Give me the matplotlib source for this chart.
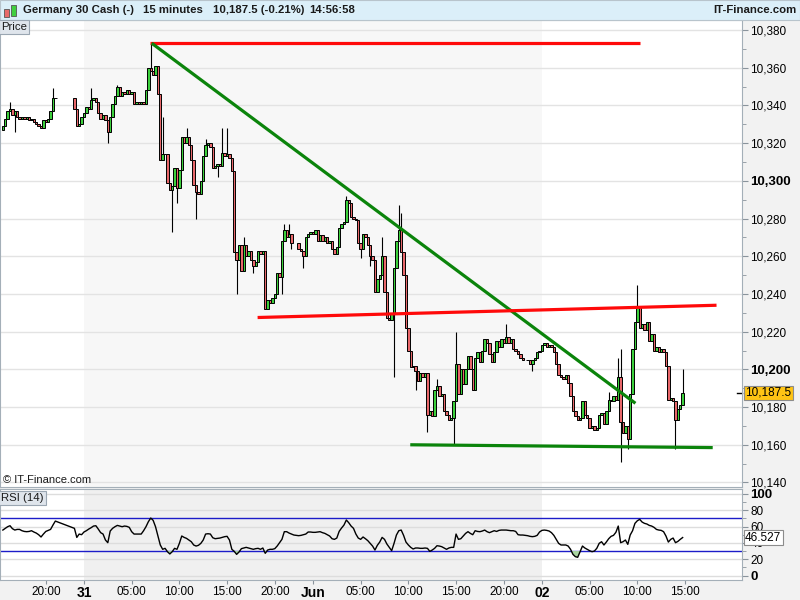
import numpy as np
import pandas as pd
import matplotlib
matplotlib.use("Agg")
import matplotlib.pyplot as plt
from matplotlib.patches import Rectangle

plt.rcParams['font.family'] = ['Liberation Sans', 'DejaVu Sans']

# Bougies de 15 minutes, du 30 mai 15:30 au 2 juin 14:45
times = pd.date_range("2016-05-30 15:30", "2016-06-02 14:45", freq="15min")
first_open = 10327.0
nan = np.nan

# Cours de clôture, par tranche
close_a = [10329, 10333, 10337, 10338, 10335, 10337, 10334, 10333, 10334, 10333, 10334, 10332,
           10333, 10331, 10330, 10329, 10328, 10332, 10331, 10333, 10337, 10344, 10344]
close_gap = [nan, nan, nan, nan, nan, nan, nan]
close_b = [10338, 10329, 10330, 10334, 10336, 10339, 10338, 10343, 10344, 10342, 10336, 10333,
           10335, 10332, 10326, 10334, 10341, 10345, 10350, 10345, 10347, 10346, 10348, 10346,
           10347, 10341, 10342, 10341]
close_c = [10342, 10341, 10348, 10360, 10358, 10356, 10361, 10346, 10311, 10314, 10314, 10299,
           10295, 10297, 10307, 10296, 10306]
close_d = [10323, 10320, 10323, 10319, 10311, 10298, 10294, 10293, 10300, 10313, 10319, 10320,
           10318, 10307, 10308, 10309, 10308, 10315, 10313, 10314, 10312, 10305, 10262, 10258,
           10266, 10252, 10266, 10260, 10263, 10258, 10255, 10257, 10263, 10261, 10263, 10232,
           10237, 10235, 10238, 10240, 10251]
close_e = [10249, 10268, 10274, 10270, 10272, 10267, nan, nan, 10264, 10263, 10260, 10270,
           10272, 10273, 10272, 10274, 10268, 10271, 10268, 10270, 10267, 10268, 10264, 10261,
           10265, 10275, 10277, 10278, 10290, 10288, 10281, 10280, 10279, 10267, 10264, 10272,
           10270, 10266, 10260, 10258, 10241, 10248, 10250, 10260, 10241, 10227, 10226, 10230,
           10254, 10268, 10274, 10262, 10250, 10222, 10210, 10201, 10202]
close_f = [10199, 10194, 10198, 10196, 10198, 10176, 10178, 10175, 10189, 10191, 10186, 10187,
           10178, 10176, 10173, 10174, 10183, 10203, 10187, 10200, 10192, 10200, 10207, 10200,
           10189, 10206, 10209, 10204, 10210, 10216, 10214, 10208, 10204, 10209, 10215, 10212,
           10216, 10214, 10217, 10214, 10216, 10211, 10210, 10208, 10206, 10205, nan, 10205,
           10203, 10205, 10206, 10209, 10210, 10213, 10214, 10212, 10213, 10212, 10209, 10203,
           10197]
close_g = [10196, 10195, 10197, 10193, 10186, 10178, 10175, 10173, 10174, 10183, 10176, 10174,
           10169, 10170, 10168, 10169, 10176, 10177, 10171, 10178, 10184, 10183, 10186, 10184,
           10196, 10172, 10166, 10170, 10163, 10187, 10211, 10225, 10233, 10222, 10224, 10221,
           10225, 10215, 10219, 10210, 10212, 10209, 10211, 10209, 10202, 10184, 10185, 10183,
           10173, 10179, 10181, 10187.5]

# Mèches marquantes (heures depuis le 31 mai 00:00)
wick_high = {-7.75: 10342, -3.25: 10349, 0.75: 10349, 3.5: 10351, 7.0: 10373, 8.25: 10334,
             10.75: 10328, 12.75: 10322, 14.5: 10328, 15.0: 10328, 16.75: 10270, 21.0: 10277,
             21.5: 10277, 27.5: 10292, 31.25: 10270, 33.0: 10287, 33.25: 10283, 37.0: 10195,
             39.0: 10220, 44.25: 10224, 55.0: 10188, 56.0: 10206, 56.25: 10211, 58.0: 10245,
             62.75: 10200}
wick_low = {-7.25: 10326, 2.5: 10320, 9.25: 10273, 9.75: 10288, 11.75: 10280, 14.0: 10302,
            16.0: 10240, 17.75: 10251, 20.75: 10240, 21.75: 10264, 23.0: 10254, 29.0: 10259,
            30.0: 10255, 32.5: 10196, 34.75: 10189, 36.0: 10167, 38.75: 10160, 47.0: 10199,
            56.25: 10151, 57.0: 10158, 62.0: 10158}

rsi_a = [55.7, 57.8, 59.8, 61.0, 57.4, 55.7, 56.5, 56.5, 54.9, 54.0, 53.7, 54.0, 54.9, 53.3,
         52.0, 50.0, 47.2, 50.8, 54.0, 55.3, 56.5, 61.8, 66.7]
rsi_gap = [nan, nan, nan, nan, nan, nan, nan]
rsi_b = [57.8, 46.7, 50.8, 50.0, 53.3, 54.9, 56.9, 58.6, 60.6, 61.0, 56.9, 52.5, 50.8, 43.5,
         40.2, 54.5, 57.8, 59.8, 61.4, 60.6, 59.8, 60.6, 60.2, 59.0, 53.7, 50.8, 50.8, 50.8]
rsi_c = [50.8, 54.9, 59.8, 65.9, 70.4, 67.6, 59.8, 48.4, 37.4, 32.1, 33.3, 29.2, 26.4, 29.2,
         33.3, 32.1, 39.4]
rsi_d = [48.4, 46.7, 45.5, 43.5, 41.4, 37.4, 36.1, 37.0, 39.4, 43.5, 50.8, 51.2, 50.8, 46.3,
         45.1, 45.5, 45.9, 46.7, 47.6, 48.0, 43.5, 32.1, 29.6, 25.9, 28.8, 32.9, 33.7, 34.5,
         33.7, 32.9, 32.1, 32.9, 33.3, 32.1, 33.7, 27.2, 31.2, 32.1, 32.1, 32.9, 36.1]
rsi_e = [40.2, 44.3, 53.7, 53.7, 52.0, 50.8, 49.6, 49.2, 48.8, 49.2, 50.0, 50.8, 53.3, 53.3,
         52.9, 52.9, 53.3, 53.7, 52.5, 51.6, 50.0, 48.4, 45.1, 44.3, 45.9, 54.1, 58.2, 61.8,
         68.0, 64.7, 60.6, 57.8, 50.8, 45.9, 44.3, 47.2, 45.1, 42.7, 39.4, 36.1, 31.2, 37.0,
         41.0, 46.7, 44.3, 38.6, 34.5, 30.4, 39.4, 49.6, 54.9, 55.7, 49.2, 41.0, 37.4, 34.5, 32.5]
rsi_f = [33.7, 33.7, 33.3, 33.3, 33.7, 33.3, 29.6, 31.2, 33.3, 36.5, 36.1, 35.3, 33.7, 32.1,
         33.7, 34.5, 34.5, 50.8, 44.3, 45.1, 48.4, 51.6, 53.7, 51.6, 50.0, 54.9, 54.0, 53.7,
         54.5, 55.7, 53.7, 52.5, 53.7, 54.9, 54.0, 55.3, 55.7, 55.7, 55.7, 55.3, 54.9, 54.9,
         54.0, 50.0, 49.6, 49.6, 49.2, 48.8, 48.0, 47.6, 48.0, 49.2, 53.3, 55.3, 55.7, 55.3,
         54.5, 52.5, 49.2, 44.3, 39.4]
rsi_g = [37.4, 37.4, 37.4, 36.1, 32.1, 25.9, 23.1, 22.3, 29.2, 36.1, 33.7, 32.1, 30.4, 29.2,
         30.0, 33.3, 39.4, 41.4, 37.4, 41.0, 45.1, 48.0, 49.2, 52.9, 60.6, 40.2, 41.4, 43.5,
         38.2, 49.6, 54.9, 63.9, 67.1, 68.8, 65.5, 63.9, 63.1, 61.4, 60.6, 59.0, 56.5, 55.7,
         55.3, 53.7, 48.4, 41.0, 44.3, 45.9, 40.2, 41.8, 44.3, 46.527]

# Lignes de tendance tracées à la main (heures, cours)
red_top_x, red_top_y = [6.9, 58.3], [10373.0, 10373.0]
green_down_x, green_down_y = [7.1, 57.8], [10373.0, 10182.0]
red_mid_x, red_mid_y = [18.2, 66.3], [10227.5, 10234.0]
green_low_x, green_low_y = [34.2, 65.9], [10160.0, 10158.5]

price_ticks = [10140, 10160, 10180, 10200, 10220, 10240, 10260, 10280, 10300, 10320, 10340, 10360, 10380]
rsi_ticks = [0, 20, 40, 60, 80, 100]
xtick_pos = [-4, 0, 5, 10, 15, 20, 24, 29, 34, 39, 44, 48, 53, 58, 63]
xtick_lab = ['20:00', '31', '05:00', '10:00', '15:00', '20:00', 'Jun', '05:00', '10:00',
             '15:00', '20:00', '02', '05:00', '10:00', '15:00']
last_price = 10187.5

# ---------------------------------------------------------
closes = np.array(close_a + close_gap + close_b + close_c + close_d + close_e + close_f + close_g, dtype=float)
rsi = np.array(rsi_a + rsi_gap + rsi_b + rsi_c + rsi_d + rsi_e + rsi_f + rsi_g, dtype=float)
hours = np.asarray((times - pd.Timestamp("2016-05-31")) / pd.Timedelta(hours=1), dtype=float)

opens = np.empty_like(closes)
prev = first_open
for k, c in enumerate(closes):
    opens[k] = prev
    if not np.isnan(c):
        prev = c
highs = np.fmax(opens, closes)
lows = np.fmin(opens, closes)
for h, v in wick_high.items():
    highs[np.argmin(abs(hours - h))] = v
for h, v in wick_low.items():
    lows[np.argmin(abs(hours - h))] = v

W, H = 800, 600
fig = plt.figure(figsize=(8, 6), dpi=100, facecolor='#f2f2f2')

def fx(px): return px / W
def fy(py): return 1 - py / H

ax = fig.add_axes([0, fy(487), fx(742), fy(20) - fy(487)])
ax2 = fig.add_axes([0, fy(580), fx(742), fy(489) - fy(580)], sharex=ax)

# En-tête
fig.add_artist(Rectangle((0, fy(20)), 1, 20 / H, transform=fig.transFigure,
                         facecolor='#dbeff9', edgecolor='#b8c4cc', lw=0.8))
fig.add_artist(Rectangle((fx(4), fy(17)), fx(5), 8 / H, transform=fig.transFigure,
                         facecolor='#e86a6a', edgecolor='#555555', lw=0.6))
fig.add_artist(Rectangle((fx(11), fy(16)), fx(5), 11 / H, transform=fig.transFigure,
                         facecolor='#3fcf3f', edgecolor='#555555', lw=0.6))
head_y = fy(10)
for x0, s in [(23, 'Germany 30 Cash (-)'), (143, '15 minutes'), (213, '10,187.5 (-0.21%)'), (309, '14:56:58')]:
    fig.text(fx(x0), head_y, s, fontsize=8.2, fontweight='bold', color='#1a1a1a', va='center', ha='left')
fig.text(fx(796), head_y, 'IT-Finance.com', fontsize=8.2, fontweight='bold', color='#1a1a1a', va='center', ha='right')

# Panneau des prix
for a in (ax, ax2):
    a.set_facecolor('white')
    for sp in a.spines.values():
        sp.set_color('#a4afb8')
ax.axvspan(0, 48, color='#f7f7f7', zorder=0, lw=0)
ax2.axvspan(0, 48, color='#f0f0f0', zorder=0, lw=0)

for t in price_ticks:
    ax.axhline(t, color='#e3e3e3', lw=1, zorder=1)

ok = ~np.isnan(closes)
x, o, c, hi, lo = hours[ok], opens[ok], closes[ok], highs[ok], lows[ok]
up = c >= o
ax.vlines(x, lo, hi, color='black', lw=0.8, zorder=2)
ax.bar(x[up], c[up] - o[up], bottom=o[up], width=0.25, color='#3cd03c', edgecolor='black', lw=0.7, zorder=3)
ax.bar(x[~up], c[~up] - o[~up], bottom=o[~up], width=0.25, color='#e8676a', edgecolor='black', lw=0.7, zorder=3)

ax.plot(red_top_x, red_top_y, color='#ff0a0a', lw=2.3, zorder=4, solid_capstyle='butt')
ax.plot(green_down_x, green_down_y, color='#0b840b', lw=2.3, zorder=4, solid_capstyle='butt')
ax.plot(red_mid_x, red_mid_y, color='#ff0a0a', lw=2.3, zorder=4, solid_capstyle='butt')
ax.plot(green_low_x, green_low_y, color='#0b840b', lw=2.3, zorder=4, solid_capstyle='butt')

ax.set_xlim(-8.8, 68.97)
ax.set_ylim(10137.6, 10385.3)
ax.yaxis.tick_right()
ax.set_yticks(price_ticks, labels=[f"{t:,}" for t in price_ticks])
ax.set_yticks(np.arange(10150, 10390, 20), minor=True)
ax.tick_params(axis='y', which='both', direction='out', length=4, color='#8a949c', labelsize=8.5, pad=2)
ax.tick_params(axis='y', which='minor', length=3)
for lbl in ax.get_yticklabels():
    if lbl.get_text() in ('10,300', '10,200'):
        lbl.set_fontweight('bold')
        lbl.set_fontsize(9.5)
ax.tick_params(axis='x', which='both', bottom=False, labelbottom=False)

yt = ax.get_yaxis_transform()
ax.plot([0.993, 1.0], [last_price, last_price], color='black', lw=1, transform=yt, clip_on=False)
ax.text(1.004, last_price, '10,187.5', transform=yt, fontsize=8.5, va='center', ha='left', zorder=6,
        bbox=dict(boxstyle='square,pad=0.12', fc='#ffc414', ec='#8c8c8c', lw=0.8))

fig.text(fx(1), fy(27), 'Price', fontsize=8.2, va='center', ha='left', color='#1a1a1a',
         bbox=dict(boxstyle='square,pad=0.18', fc='#dfe5ec', ec='#9aa6b2', lw=0.8))
fig.text(fx(3), fy(480), '\u00a9 IT-Finance.com', fontsize=8, va='center', ha='left', color='#1a1a1a')

# Panneau RSI
for t in rsi_ticks:
    ax2.axhline(t, color='#dddddd', lw=1, zorder=1)
ax2.axhline(70, color='#1c1cc8', lw=1, zorder=2)
ax2.axhline(30, color='#1c1cc8', lw=1, zorder=2)
rk = ~np.isnan(rsi)
ax2.fill_between(hours[rk], rsi[rk], 30, where=rsi[rk] < 30, interpolate=True,
                 color='#a9d5a0', lw=0, zorder=2)
ax2.plot(hours[rk], rsi[rk], color='black', lw=1, zorder=3)
ax2.set_ylim(-5.5, 106)
ax2.yaxis.tick_right()
ax2.set_yticks(rsi_ticks, labels=[str(t) for t in rsi_ticks])
ax2.set_yticks([10, 30, 50, 70, 90], minor=True)
ax2.tick_params(axis='y', which='both', direction='out', length=4, color='#8a949c', labelsize=8.5, pad=2)
ax2.tick_params(axis='y', which='minor', length=3)
for lbl in ax2.get_yticklabels():
    if lbl.get_text() in ('100', '0'):
        lbl.set_fontweight('bold')
        lbl.set_fontsize(9.5)
yt2 = ax2.get_yaxis_transform()
ax2.text(1.004, rsi[-1], f'{rsi[-1]:.3f}', transform=yt2, fontsize=8.5, va='center', ha='left', zorder=6,
         bbox=dict(boxstyle='square,pad=0.12', fc='white', ec='#8c8c8c', lw=0.8))

ax2.set_xticks(xtick_pos, labels=xtick_lab)
ax2.tick_params(axis='x', direction='out', length=3, color='#8a949c', labelsize=8.5, pad=1.5)
for lbl in ax2.get_xticklabels():
    if lbl.get_text() in ('31', 'Jun', '02'):
        lbl.set_fontweight('bold')
        lbl.set_fontsize(10)

fig.text(fx(1), fy(498), 'RSI (14)', fontsize=8.2, va='center', ha='left', color='#1a1a1a',
         bbox=dict(boxstyle='square,pad=0.18', fc='#dfe5ec', ec='#9aa6b2', lw=0.8))

fig.savefig('out.png', dpi=100, facecolor=fig.get_facecolor())
